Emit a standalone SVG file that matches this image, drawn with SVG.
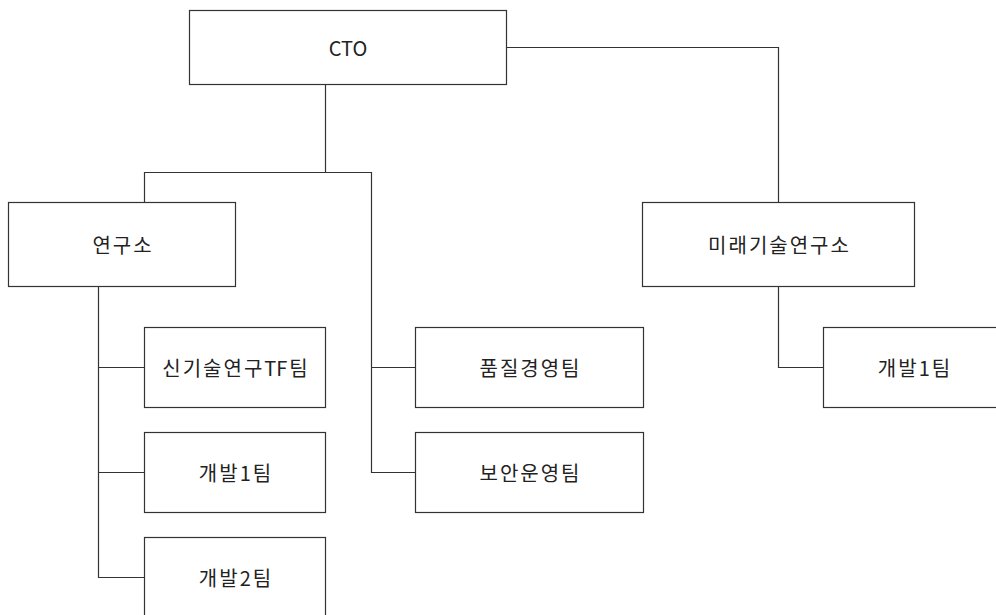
<svg xmlns="http://www.w3.org/2000/svg" width="996" height="615" viewBox="0 0 996 615">
<style>
.box{fill:#ffffff;stroke:#333333;stroke-width:1.2}
.lbl{font-family:"Noto Sans CJK KR","Malgun Gothic","Noto Sans",sans-serif;font-size:20px;letter-spacing:2px;fill:#222222;text-anchor:middle;dominant-baseline:central}
.lat{letter-spacing:0px}
.ln{fill:none;stroke:#333333;stroke-width:1.2}
</style>
<rect x="0" y="0" width="996" height="615" fill="#ffffff"/>
<g id="connectors">
<path class="ln" d="M325.5,84.5 V172.5 M144.5,202.5 V172.5 H371.5 V472.5 H415.5 M371.5,367.5 H415.5"/>
<path class="ln" d="M98.5,286.5 V577.5 H144.5 M98.5,367.5 H144.5 M98.5,472.5 H144.5"/>
<path class="ln" d="M506.5,47.5 H778.5 V202.5"/>
<path class="ln" d="M778.5,286.5 V367.5 H823.5"/>
</g>
<g id="cto"><rect class="box" x="189.5" y="10.5" width="317" height="74"/><text class="lbl lat" x="348" y="47">CTO</text></g>
<g id="lab"><rect class="box" x="8.5" y="202.5" width="227" height="84"/><text class="lbl" x="123" y="244">연구소</text></g>
<g id="newtech"><rect class="box" x="144.5" y="327.5" width="181" height="80"/><text class="lbl" x="236" y="367">신기술연구<tspan class="lat">T</tspan>F팀</text></g>
<g id="dev1"><rect class="box" x="144.5" y="432.5" width="181" height="80"/><text class="lbl" x="236" y="472">개발1팀</text></g>
<g id="dev2"><rect class="box" x="144.5" y="537.5" width="181" height="80"/><text class="lbl" x="236" y="577">개발2팀</text></g>
<g id="quality"><rect class="box" x="415.5" y="327.5" width="228" height="80"/><text class="lbl" x="530.5" y="367">품질경영팀</text></g>
<g id="security"><rect class="box" x="415.5" y="432.5" width="228" height="80"/><text class="lbl" x="530.5" y="472">보안운영팀</text></g>
<g id="futurelab"><rect class="box" x="642.5" y="202.5" width="272" height="84"/><text class="lbl" x="779.5" y="244">미래기술연구소</text></g>
<g id="futuredev1"><rect class="box" x="823.5" y="327.5" width="181" height="80"/><text class="lbl" x="915" y="367">개발1팀</text></g>
</svg>
